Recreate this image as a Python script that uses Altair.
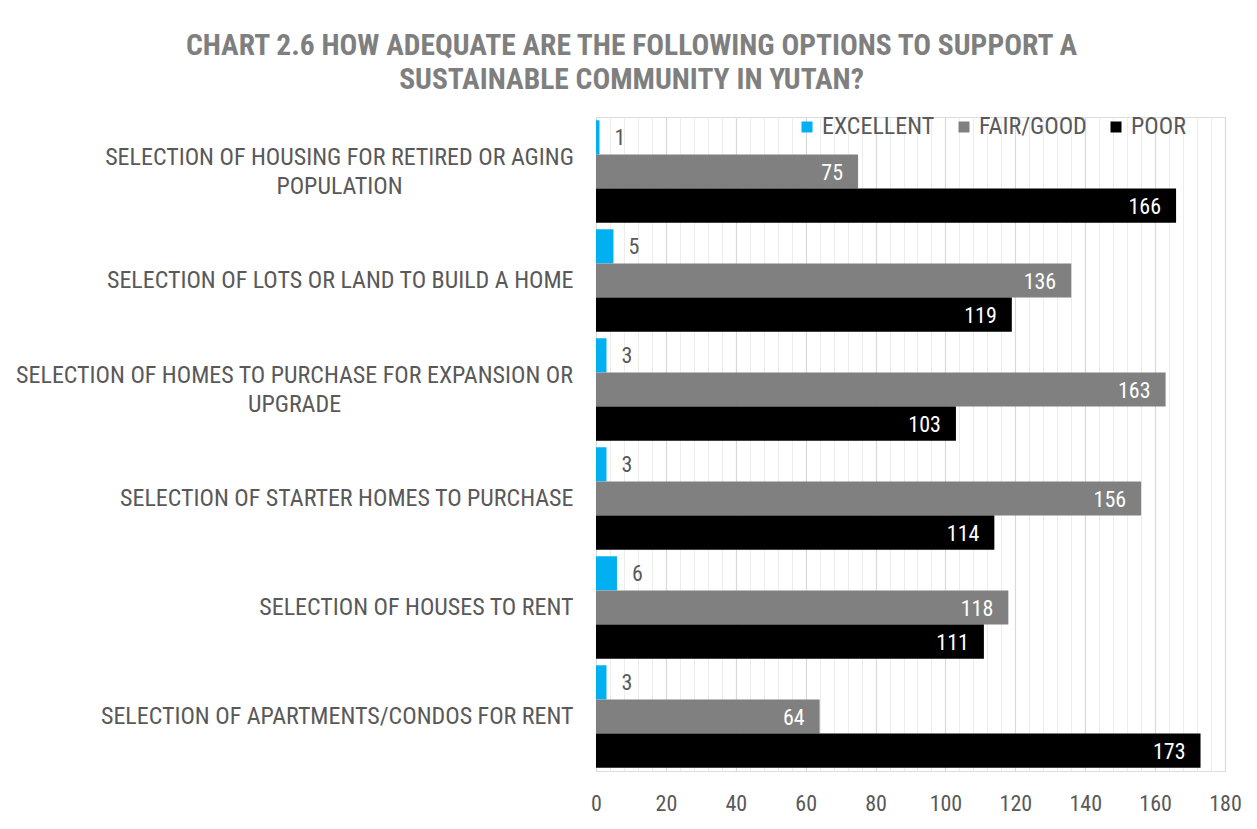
import altair as alt
import pandas as pd

categories = [
    "SELECTION OF HOUSING FOR RETIRED OR AGING POPULATION",
    "SELECTION OF LOTS OR LAND TO BUILD A HOME",
    "SELECTION OF HOMES TO PURCHASE FOR EXPANSION OR UPGRADE",
    "SELECTION OF STARTER HOMES TO PURCHASE",
    "SELECTION OF HOUSES TO RENT",
    "SELECTION OF APARTMENTS/CONDOS FOR RENT",
]
excellent = [1, 5, 3, 3, 6, 3]
fair_good = [75, 136, 163, 156, 118, 64]
poor = [166, 119, 103, 114, 111, 173]
series = ["EXCELLENT", "FAIR/GOOD", "POOR"]
colors = ["#00B0F0", "#808080", "#000000"]
major_ticks = list(range(0, 181, 20))
minor_ticks = [v for v in range(0, 181, 4) if v % 20]

# wrapped label lines
wrapped = {
    categories[0]: ["SELECTION OF HOUSING FOR RETIRED OR AGING", "POPULATION"],
    categories[2]: ["SELECTION OF HOMES TO PURCHASE FOR EXPANSION OR", "UPGRADE"],
}
# distance from plot edge to the centre of each wrapped label block
wrap_pad = {categories[0]: 257, categories[2]: 302}

rows = []
for i, c in enumerate(categories):
    for s, vals in zip(series, [excellent, fair_good, poor]):
        rows.append({"category": c, "series": s, "value": vals[i]})
df = pd.DataFrame(rows)

FONT = "'Liberation Sans Narrow', 'Roboto Condensed', Roboto, sans-serif"
LABEL = "#595959"

expr_parts = []
for k, lines in wrapped.items():
    arr = "[" + ",".join("'" + l + "'" for l in lines) + "]"
    expr_parts.append(f"datum.label == '{k}' ? {arr}")
label_expr = " : ".join(expr_parts) + " : datum.label"
multi_test = " || ".join(f"datum.value == '{k}'" for k in wrapped)

y_enc = alt.Y(
    "category:N",
    sort=categories,
    scale=alt.Scale(paddingInner=0.06, paddingOuter=0.03),
    axis=alt.Axis(
        title=None,
        ticks=False,
        domain=False,
        labelExpr=label_expr,
        labelFont=FONT,
        labelFontSize=24,
        labelColor=LABEL,
        labelLineHeight=29,
        labelBaseline="middle",
        labelLimit=700,
        labelAlign={"condition": {"test": multi_test, "value": "center"}, "value": "right"},
        labelOffset={"condition": {"test": multi_test, "value": -14}, "value": 0},
        labelPadding={
            "condition": [
                {"test": f"datum.value == '{k}'", "value": v} for k, v in wrap_pad.items()
            ],
            "value": 23,
        },
    ),
)
y_off = alt.YOffset("series:N", sort=series, scale=alt.Scale(paddingInner=0, paddingOuter=0))

x_scale = alt.Scale(domain=[0, 180], nice=False)

bars = alt.Chart(df).mark_bar().encode(
    x=alt.X(
        "value:Q",
        scale=x_scale,
        axis=alt.Axis(
            values=major_ticks,
            title=None,
            ticks=False,
            domain=False,
            grid=True,
            gridColor="#d9d9d9",
            gridWidth=1.2,
            labelFont=FONT,
            labelFontSize=22,
            labelColor=LABEL,
            labelPadding=22,
            labelFlush=False,
            orient="bottom",
        ),
    ),
    y=y_enc,
    yOffset=y_off,
    color=alt.Color(
        "series:N",
        scale=alt.Scale(domain=series, range=colors),
        legend=alt.Legend(
            orient="none",
            legendX=199,
            legendY=-2,
            direction="horizontal",
            title=None,
            symbolType="square",
            symbolSize=121,
            symbolStrokeWidth=0,
            labelFont=FONT,
            labelFontSize=24,
            labelColor=LABEL,
            columnPadding=17,
            labelOffset=3,
        ),
    ),
)

text_ex = alt.Chart(df).transform_filter(alt.datum.series == "EXCELLENT").mark_text(
    align="left", baseline="middle", dx=15, dy=1, font=FONT, fontSize=22, color=LABEL
).encode(
    x=alt.X(
        "value:Q",
        scale=x_scale,
        axis=alt.Axis(
            values=minor_ticks,
            title=None,
            ticks=False,
            domain=False,
            labels=False,
            grid=True,
            gridColor="#ededed",
            orient="bottom",
        ),
    ),
    y=y_enc,
    yOffset=y_off,
    text="value:Q",
)

text_in = alt.Chart(df).transform_filter(alt.datum.series != "EXCELLENT").mark_text(
    align="right", baseline="middle", dx=-15, dy=1, font=FONT, fontSize=22, color="white"
).encode(
    x=alt.X("value:Q", scale=x_scale, axis=None),
    y=y_enc,
    yOffset=y_off,
    text="value:Q",
)

chart = (
    alt.layer(bars, text_ex, text_in)
    .resolve_axis(x="independent")
    .properties(
        width=629,
        height=654,
        autosize=alt.AutoSizeParams(type="none"),
        padding={"left": 588, "top": 109, "right": 24, "bottom": 50},
        title=alt.TitleParams(
            text=[
                "CHART 2.6 HOW ADEQUATE ARE THE FOLLOWING OPTIONS TO SUPPORT A",
                "SUSTAINABLE COMMUNITY IN YUTAN?",
            ],
            font=FONT,
            fontSize=29.5,
            fontWeight="bold",
            color="#7f7f7f",
            anchor="middle",
            frame="group",
            dx=-279,
            offset=20,
            lineHeight=34,
        ),
    )
    .configure_view(stroke=None)
    .configure(background="white")
)

chart.save("out.html", embed_options={"renderer": "svg", "actions": False})
